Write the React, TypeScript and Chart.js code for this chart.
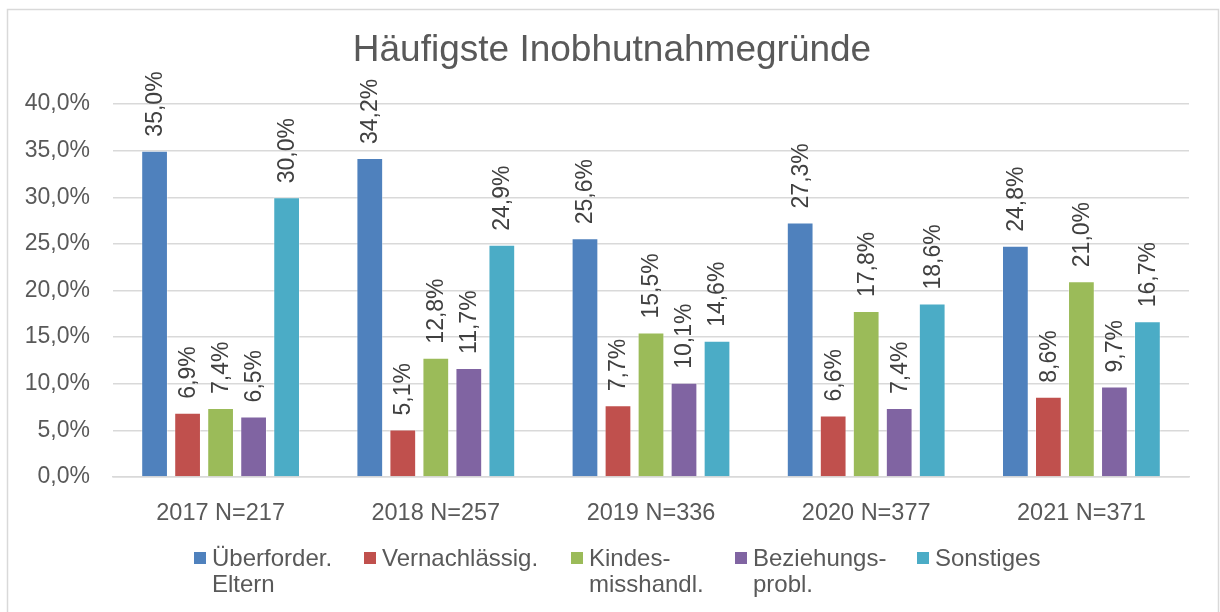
import React, { useEffect, useRef } from "react";
import { Chart, registerables } from "chart.js";

Chart.register(...registerables);

const categories = ["2017 N=217", "2018 N=257", "2019 N=336", "2020 N=377", "2021 N=371"];
const seriesNames: string[][] = [
  ["Überforder.", "Eltern"],
  ["Vernachlässig."],
  ["Kindes-", "misshandl."],
  ["Beziehungs-", "probl."],
  ["Sonstiges"],
];
const ueberforderung = [35.0, 34.2, 25.6, 27.3, 24.8];
const vernachlaessigung = [6.9, 5.1, 7.7, 6.6, 8.6];
const misshandlung = [7.4, 12.8, 15.5, 17.8, 21.0];
const beziehung = [6.5, 11.7, 10.1, 7.4, 9.7];
const sonstiges = [30.0, 24.9, 14.6, 18.6, 16.7];
const seriesValues = [ueberforderung, vernachlaessigung, misshandlung, beziehung, sonstiges];
const seriesColors = ["#4F81BD", "#C0504D", "#9BBB59", "#8064A2", "#4BACC6"];
const yTicks = [0, 5, 10, 15, 20, 25, 30, 35, 40];
const titleText = "Häufigste Inobhutnahmegründe";

const FONT = "'Liberation Sans', Arial, sans-serif";
const fmt = (v: number) => v.toFixed(1).replace(".", ",") + "%";

const legendX = [194, 364, 571, 735, 917];

const decorPlugin = {
  id: "decor",
  afterDraw(chart: any) {
    const ctx = chart.ctx;
    ctx.save();
    // frame
    ctx.strokeStyle = "#d9d9d9";
    ctx.lineWidth = 1.5;
    ctx.strokeRect(7.5, 9.5, 1211, 620);
    // title
    ctx.fillStyle = "#595959";
    ctx.font = `37px ${FONT}`;
    ctx.textAlign = "center";
    ctx.textBaseline = "middle";
    ctx.fillText(titleText, 612, 51);
    // data labels
    ctx.fillStyle = "#404040";
    ctx.font = `23px ${FONT}`;
    chart.data.datasets.forEach((ds: any, i: number) => {
      const meta = chart.getDatasetMeta(i);
      meta.data.forEach((bar: any, j: number) => {
        ctx.save();
        ctx.translate(bar.x + 1, bar.y - 14);
        ctx.rotate(-Math.PI / 2);
        ctx.textAlign = "left";
        ctx.textBaseline = "middle";
        ctx.fillText(fmt(ds.data[j]), 0, 0);
        ctx.restore();
      });
    });
    // legend
    ctx.font = `24px ${FONT}`;
    ctx.textAlign = "left";
    ctx.textBaseline = "middle";
    chart.data.datasets.forEach((ds: any, i: number) => {
      const x = legendX[i];
      ctx.fillStyle = ds.backgroundColor;
      ctx.fillRect(x, 552, 12, 12);
      ctx.fillStyle = "#595959";
      seriesNames[i].forEach((line, k) => {
        ctx.fillText(line, x + 18, 559 + k * 26);
      });
    });
    ctx.restore();
  },
};

export default function App() {
  const ref = useRef<HTMLCanvasElement | null>(null);
  useEffect(() => {
    if (!ref.current) return;
    const chart = new Chart(ref.current, {
      type: "bar",
      data: {
        labels: categories,
        datasets: seriesValues.map((vals, i) => ({
          label: seriesNames[i].join(" "),
          data: vals,
          backgroundColor: seriesColors[i],
          borderColor: "rgba(255,255,255,0.4)",
          borderWidth: 1,
          categoryPercentage: 0.767,
          barPercentage: 0.81,
        })),
      },
      options: {
        responsive: false,
        animation: false,
        layout: { padding: { left: 0, right: 31, top: 104, bottom: 75 } },
        plugins: {
          legend: { display: false },
          title: { display: false },
          tooltip: { enabled: false },
        },
        scales: {
          x: {
            grid: { display: false },
            border: { display: true, color: "#d9d9d9", width: 1.5 },
            ticks: {
              color: "#595959",
              font: { family: FONT, size: 23.5 },
              padding: 14,
              maxRotation: 0,
            },
            afterFit: (s: any) => {
              s.height = 60;
            },
          },
          y: {
            min: 0,
            max: 40,
            afterBuildTicks: (s: any) => {
              s.ticks = yTicks.map((v) => ({ value: v }));
            },
            grid: { color: "#d9d9d9", lineWidth: 1.5, drawTicks: false },
            border: { display: false },
            ticks: {
              color: "#595959",
              font: { family: FONT, size: 23 },
              padding: 23,
              callback: (v: any) => fmt(Number(v)),
            },
            afterFit: (s: any) => {
              s.width = 113;
            },
          },
        },
      },
      plugins: [decorPlugin],
    });
    return () => chart.destroy();
  }, []);
  return (
    <div style={{ position: "fixed", left: 0, top: 0, width: 1220, height: 612, background: "#fff" }}>
      <canvas ref={ref} width={1220} height={612} />
    </div>
  );
}
